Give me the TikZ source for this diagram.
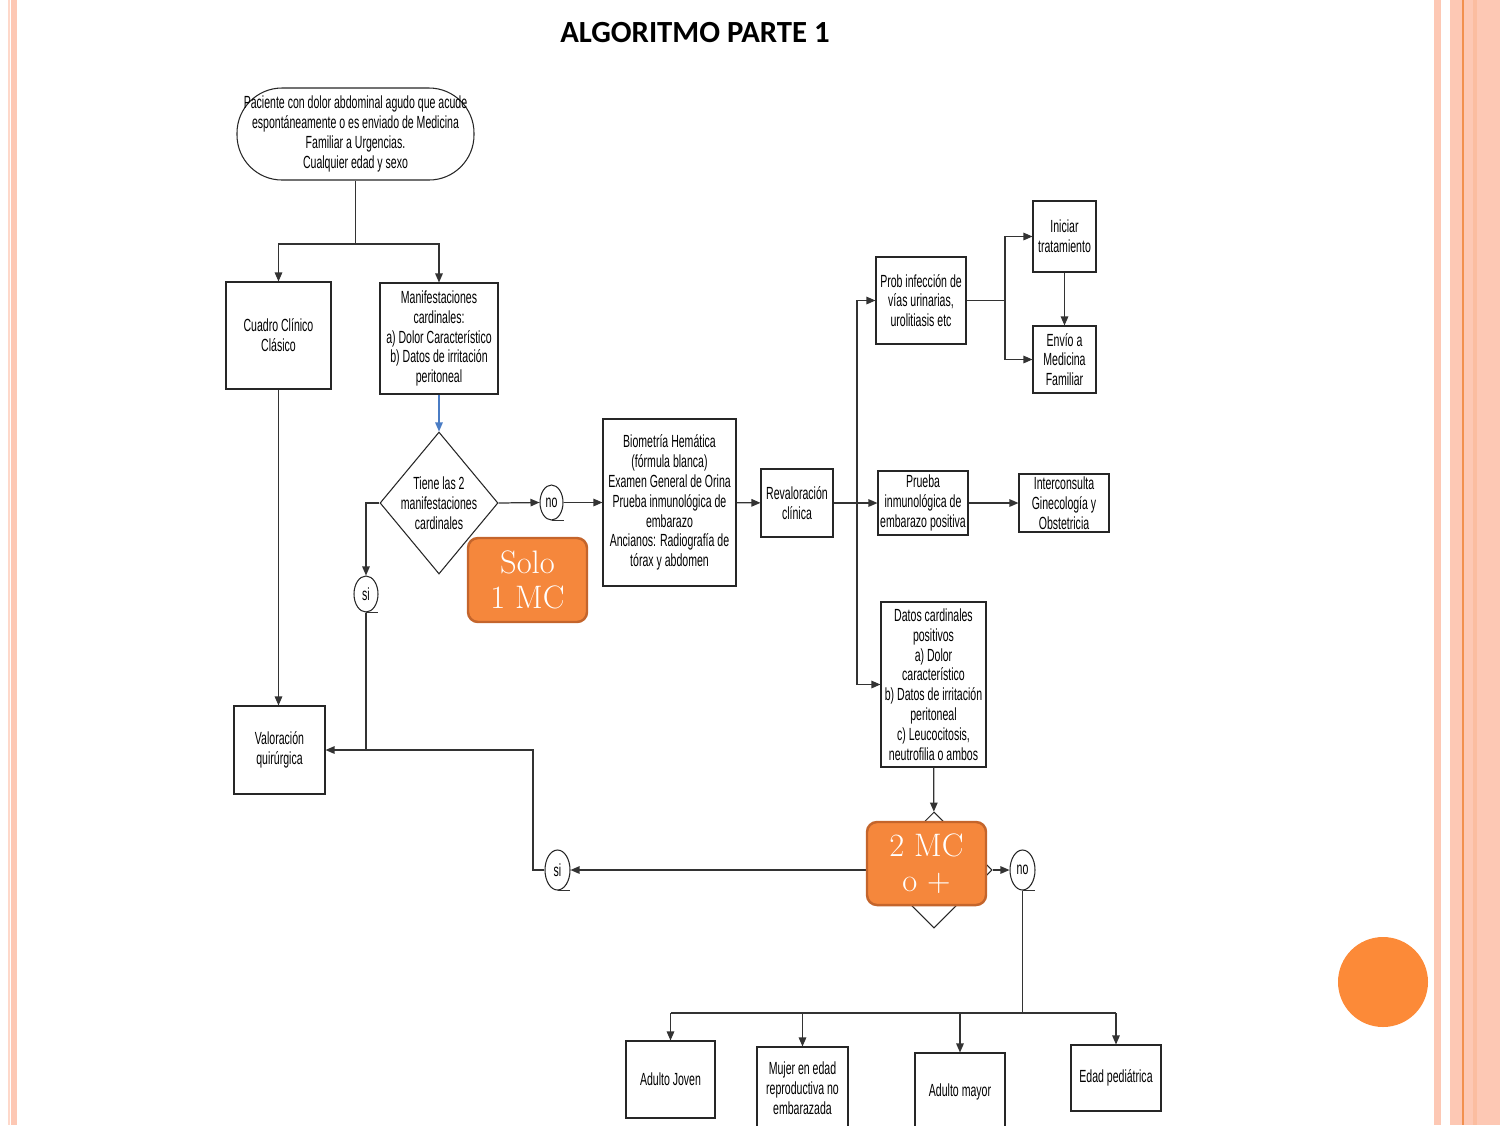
\documentclass[tikz,border=0pt]{standalone}
\usepackage{fontspec}
\newfontfamily\narrowfont[FakeStretch=0.6]{Liberation Sans}
\newfontfamily\titlefont{Carlito}
\usetikzlibrary{shapes.geometric,arrows.meta}
\definecolor{salmon}{HTML}{FDC8B4}
\definecolor{stripeline}{HTML}{F2904E}
\definecolor{mcfill}{HTML}{F5873C}
\definecolor{mcedge}{HTML}{C4652C}
\definecolor{dotfill}{HTML}{FC8A38}
\definecolor{linkblue}{HTML}{4A7CC4}
\begin{document}
\begin{tikzpicture}[x=0.2mm,y=-0.2mm]
        \tikzstyle{box}=[draw=black!85,line width=0.6pt,fill=white,align=center,inner sep=1pt,
            font=\narrowfont\fontsize{10}{11.3}\selectfont]
        \tikzstyle{bubble}=[draw=black!85,line width=0.6pt,ellipse,inner sep=0pt,
            font=\narrowfont\fontsize{10}{11.3}\selectfont]
        \tikzstyle{mcbox}=[draw=mcedge,line width=1.4pt,fill=mcfill,rounded corners=2mm,
            text=white,align=center,font=\fontsize{18.5}{20}\selectfont]
        \tikzstyle{arr}=[draw=black!80,line width=0.7pt,-{Triangle[length=1.8mm,width=1.5mm]}]
        \tikzstyle{link}=[draw=black!80,line width=0.7pt]

        \useasboundingbox (0,0) rectangle (1500,1125);
        \clip (0,0) rectangle (1500,1125);

        % side stripes
        \fill[salmon!70] (7.5,0) rectangle (9.5,1125);
        \fill[salmon] (11,0) rectangle (17,1125);
        \fill[salmon] (1434,0) rectangle (1441,1125);
        \fill[salmon] (1450,0) rectangle (1500,1125);
        \fill[stripeline] (1461.5,0) rectangle (1463.5,1125);
        \fill[salmon!80!stripeline] (1473,0) rectangle (1477,1125);
        \fill[dotfill] (1383,982) circle (45);

        \node[font=\titlefont\bfseries\fontsize{17.5}{19}\selectfont] (title) at (695,33) {ALGORITMO PARTE 1};

        % boxes
        \node[box,rounded corners=9mm,minimum width=47.4mm,minimum height=18.4mm] (start) at (355.5,134)
            {Paciente con dolor abdominal agudo que acude\\espontáneamente o es enviado de Medicina\\Familiar a Urgencias.\\Cualquier edad y sexo};
        \node[box,minimum width=21mm,minimum height=21.4mm] (cuadro) at (278.5,335.5) {Cuadro Clínico\\Clásico};
        \node[box,minimum width=23.6mm,minimum height=22.2mm] (manif) at (439,338.5)
            {Manifestaciones\\cardinales:\\a) Dolor Característico\\b) Datos de irritación\\peritoneal};
        \node[box,diamond,minimum width=23.6mm,minimum height=28.4mm,inner sep=0pt,
            label={[align=center,font=\narrowfont\fontsize{10}{11.3}\selectfont]center:Tiene las 2\\manifestaciones\\cardinales}] (diam) at (439,503) {};
        \node[bubble,minimum width=4.6mm,minimum height=7mm] (no1) at (551.5,502.5) {no};
        \node[box,minimum width=26.6mm,minimum height=33.4mm] (bio) at (669.5,502.5)
            {Biometría Hemática\\(fórmula blanca)\\Examen General de Orina\\Prueba inmunológica de\\embarazo\\Ancianos: Radiografía de\\tórax y abdomen};
        \node[box,minimum width=14.4mm,minimum height=13.6mm] (reval) at (797,503) {Revaloración\\clínica};
        \node[box,minimum width=18mm,minimum height=17.4mm] (prob) at (921,300.5) {Prob infección de\\vías urinarias,\\urolitiasis etc};
        \node[box,minimum width=12.6mm,minimum height=14.2mm] (ini) at (1064.5,236.5) {Iniciar\\tratamiento};
        \node[box,minimum width=12.6mm,minimum height=13.4mm] (envio) at (1064.5,359.5) {Envío a\\Medicina\\Familiar};
        \node[box,minimum width=18mm,minimum height=12.8mm] (prueba) at (923,503) {Prueba\\inmunológica de\\embarazo positiva};
        \node[box,minimum width=18mm,minimum height=11.6mm] (inter) at (1064,503) {Interconsulta\\Ginecología y\\Obstetricia};
        \node[box,minimum width=21mm,minimum height=33mm] (datos) at (933.5,684.5)
            {Datos cardinales\\positivos\\a) Dolor\\característico\\b) Datos de irritación\\peritoneal\\c) Leucocitosis,\\neutrofilia o ambos};
        \node[box,diamond,minimum width=23.2mm,minimum height=23.2mm,inner sep=0pt] (diam2) at (934,870) {};
        \node[bubble,minimum width=5mm,minimum height=8mm] (no2) at (1022.5,870) {no};
        \node[bubble,minimum width=5mm,minimum height=8mm] (si2) at (557.5,870) {si};
        \node[bubble,minimum width=4.8mm,minimum height=7.2mm] (si1) at (366,594) {si};
        \node[box,minimum width=18.2mm,minimum height=17.6mm] (valor) at (279.5,750) {Valoración\\quirúrgica};
        \node[box,minimum width=17.8mm,minimum height=15.4mm] (joven) at (670.5,1079.5) {Adulto Joven};
        \node[box,minimum width=18.2mm,minimum height=16.6mm] (mujer) at (802.5,1088.5) {Mujer en edad\\reproductiva no\\embarazada};
        \node[box,minimum width=18mm,minimum height=15.4mm] (mayor) at (960,1091.5) {Adulto mayor};
        \node[box,minimum width=18mm,minimum height=13.2mm] (ped) at (1116,1078) {Edad pediátrica};

        % connectors
        \coordinate (split) at (355.5,244);
        \draw[link] (start) -- (split);
        \draw[arr] (split) -| (cuadro.north);
        \draw[arr] (split) -| (manif.north);
        \draw[arr,draw=linkblue] (manif) -- (diam);
        \draw[arr] (diam.east) -- (no1.west);
        \draw[arr] (no1.east) -- (bio.west);
        \draw[arr] (bio) -- (reval);
        \coordinate (bus1) at (857,503);
        \draw[link] (reval.east) -- (bus1);
        \draw[arr] (bus1) |- (prob.west);
        \draw[arr] (bus1) -- (prueba.west);
        \draw[arr] (bus1) |- (datos.west);
        \coordinate (bus2) at (1005,300.5);
        \draw[link] (prob.east) -- (bus2);
        \draw[arr] (bus2) |- (ini.west);
        \draw[arr] (bus2) |- (envio.west);
        \draw[arr] (ini) -- (envio);
        \draw[arr] (prueba) -- (inter);
        \draw[arr] (datos) -- (diam2);
        \draw[arr] (diam2.east) -- (no2.west);
        \draw[arr] (diam2.west) -- (si2.east);
        \coordinate (bendsi) at (533,750);
        \draw[arr] (si2.west) -| (bendsi) -- (valor.east);
        \draw[arr] (cuadro.south) -- (cuadro.south |- valor.north);
        \draw[arr] (diam.west) -| (si1.north);
        \draw[link] (si1.south) -- (si1.south |- valor.east);
        \coordinate (bus3) at (1022.5,1013);
        \draw[link] (no2.south) -- (bus3);
        \draw[link] (joven.north |- bus3) -- (ped.north |- bus3);
        \draw[arr] (joven.north |- bus3) -- (joven.north);
        \draw[arr] (mujer.north |- bus3) -- (mujer.north);
        \draw[arr] (mayor.north |- bus3) -- (mayor.north);
        \draw[arr] (ped.north |- bus3) -- (ped.north);

        % tails under the bubbles
        \draw[link] (no1.south) -- ++(12,0);
        \draw[link] (si1.south) -- ++(12,0);
        \draw[link] (si2.south) -- ++(12,0);
        \draw[link] (no2.south) -- ++(12,0);

        % orange labels
        \node[mcbox,minimum width=23.8mm,minimum height=16.8mm] (solo) at (527.5,580) {Solo\\1 MC};
        \node[mcbox,minimum width=23.8mm,minimum height=16.6mm] (mc2) at (926.5,863.5) {2 MC\\o +};

    \end{tikzpicture}
\end{document}
